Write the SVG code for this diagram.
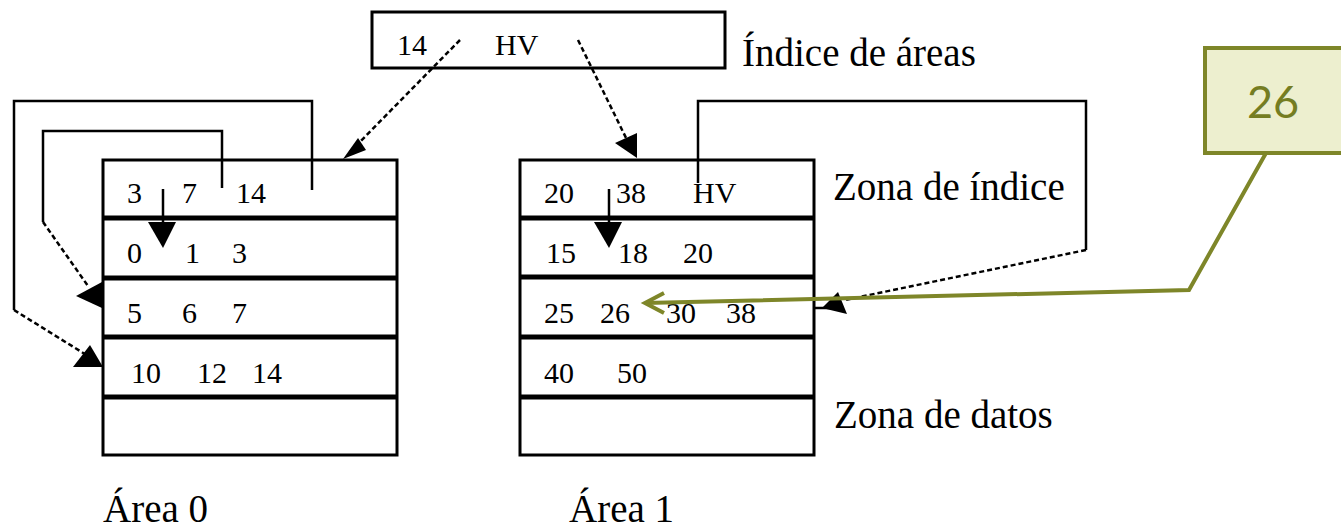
<svg xmlns="http://www.w3.org/2000/svg" width="1341" height="528" viewBox="0 0 1341 528">
<style>
.box{fill:#fff;stroke:#000;stroke-width:3}
.sep{stroke:#000;stroke-width:5}
.t{font-family:"Liberation Serif",serif;font-size:30px;fill:#000}
.lbl{font-family:"Liberation Serif",serif;font-size:39px;fill:#000}
.ln{fill:none;stroke:#000;stroke-width:2.5}
.dl{fill:none;stroke:#000;stroke-width:2.5;stroke-dasharray:5 3}
.ah{fill:#000;stroke:none}
.ol{fill:none;stroke:#7E8629;stroke-width:4;stroke-linejoin:miter}
</style>
<rect width="1341" height="528" fill="#fff"/>

<g id="indice-areas">
<rect class="box" x="372" y="12" width="353" height="56"/>
<text class="t" x="397" y="55">14</text>
<text class="t" x="495" y="55">HV</text>
<text class="lbl" x="742" y="66">Índice de áreas</text>
</g>

<g id="area0">
<rect class="box" x="103" y="160" width="294" height="295"/>
<line class="sep" x1="103" y1="218" x2="397" y2="218"/>
<line class="sep" x1="103" y1="278" x2="397" y2="278"/>
<line class="sep" x1="103" y1="337" x2="397" y2="337"/>
<line class="sep" x1="103" y1="397" x2="397" y2="397"/>
<text class="t" x="127" y="203">3</text>
<text class="t" x="182" y="203">7</text>
<text class="t" x="236" y="203">14</text>
<text class="t" x="127" y="263">0</text>
<text class="t" x="185" y="263">1</text>
<text class="t" x="232" y="263">3</text>
<text class="t" x="127" y="323">5</text>
<text class="t" x="182" y="323">6</text>
<text class="t" x="232" y="323">7</text>
<text class="t" x="131" y="383">10</text>
<text class="t" x="197" y="383">12</text>
<text class="t" x="252" y="383">14</text>
<text class="lbl" x="103" y="522">Área 0</text>
</g>

<g id="area1">
<rect class="box" x="520" y="160" width="294" height="295"/>
<line class="sep" x1="520" y1="218" x2="814" y2="218"/>
<line class="sep" x1="520" y1="277" x2="814" y2="277"/>
<line class="sep" x1="520" y1="337" x2="814" y2="337"/>
<line class="sep" x1="520" y1="397" x2="814" y2="397"/>
<text class="t" x="544" y="203">20</text>
<text class="t" x="616" y="203">38</text>
<text class="t" x="693" y="203">HV</text>
<text class="t" x="546" y="263">15</text>
<text class="t" x="618" y="263">18</text>
<text class="t" x="683" y="263">20</text>
<text class="t" x="544" y="323">25</text>
<text class="t" x="600" y="323">26</text>
<text class="t" x="666" y="323">30</text>
<text class="t" x="726" y="323">38</text>
<text class="t" x="544" y="383">40</text>
<text class="t" x="617" y="383">50</text>
<text class="lbl" x="569" y="522">Área 1</text>
</g>

<g id="zona-labels">
<text class="lbl" x="833" y="200">Zona de índice</text>
<text class="lbl" x="834" y="428">Zona de datos</text>
</g>

<g id="connectors">
<line class="dl" x1="460" y1="40" x2="350" y2="152"/>
<polygon class="ah" points="358,138 366,150 343,159"/>
<line class="dl" x1="578" y1="40" x2="630" y2="146"/>
<polygon class="ah" points="615,143 637,133 637,158"/>
<path class="ln" d="M312,190 V101 H14 V310"/>
<line class="dl" x1="14" y1="310" x2="88" y2="356"/>
<polygon class="ah" points="90,345 73,367 103,367"/>
<path class="ln" d="M222,188 V131 H43 V222"/>
<line class="dl" x1="43" y1="222" x2="88" y2="286"/>
<polygon class="ah" points="76,296 102,282 102,308"/>
<line class="ln" x1="163" y1="189" x2="163" y2="230"/>
<polygon class="ah" points="148,222 176,222 163,248"/>
<path class="ln" d="M698,183 V101 H1086 V250"/>
<line class="dl" x1="1086" y1="250" x2="845" y2="300"/>
<polygon class="ah" points="838,292 822,308 847,314"/>
<line class="ln" x1="815" y1="308" x2="832" y2="308"/>
<line class="ln" x1="609" y1="189" x2="609" y2="230"/>
<polygon class="ah" points="594,222 622,222 609,248"/>
</g>

<g id="nota-26">
<rect x="1205" y="48" width="140" height="105" fill="#EDEFCF" stroke="#7E8629" stroke-width="4"/>
<text x="1273" y="118" text-anchor="middle" font-family="Lato, 'Open Sans', sans-serif" font-size="45" fill="#757D22">26</text>
</g>

<g id="nota-connector">
<path class="ol" d="M1266,153 L1189,290 L645,303"/>
<path class="ol" d="M664,293 L645,303 L664,313"/>
</g>
</svg>
